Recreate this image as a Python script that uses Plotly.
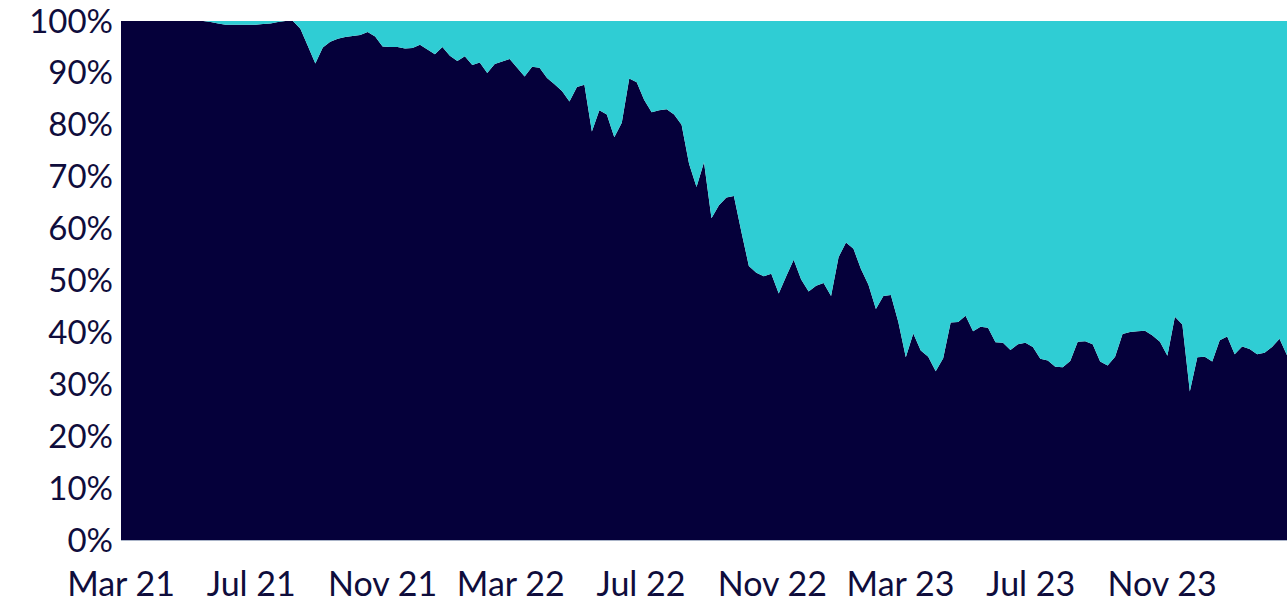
import pandas as pd
import plotly.graph_objects as go

start_date = "2021-03-01"
n_weeks = 157

dark_share = [
    100, 100, 100, 100, 100, 100, 100, 100, 100, 100,
    100, 100, 99.8, 99.5, 99.3, 99.3, 99.3, 99.3, 99.3, 99.4,
    99.5, 99.8, 100, 100, 98.5, 95.2, 91.8, 94.9, 96, 96.6,
    96.9, 97.1, 97.3, 97.9, 97, 95.1, 95, 95, 94.7, 94.8,
    95.4, 94.5, 93.6, 95, 93.3, 92.3, 93.2, 91.5, 92, 90,
    91.7, 92.2, 92.7, 91, 89.3, 91.2, 91, 89, 87.8, 86.5,
    84.5, 87.3, 87.7, 78.7, 82.8, 82, 77.6, 80.4, 88.9, 88.2,
    84.8, 82.4, 82.8, 83, 82, 80, 72.5, 68, 72.8, 62,
    64.5, 66, 66.3, 59.4, 52.8, 51.5, 50.8, 51.3, 47.5, 50.8,
    54, 50.2, 47.9, 49, 49.5, 47, 54.5, 57.3, 56.1, 52.2,
    49.2, 44.5, 47, 47.2, 42, 35.2, 39.8, 36.5, 35.3, 32.5,
    35, 41.9, 42, 43.2, 40.2, 41.1, 40.9, 38.1, 38, 36.6,
    37.7, 38, 37.2, 34.9, 34.6, 33.4, 33.3, 34.5, 38.2, 38.3,
    37.7, 34.4, 33.6, 35.3, 39.7, 40.1, 40.2, 40.3, 39.4, 38.2,
    35.5, 43, 41.5, 28.6, 35.2, 35.3, 34.4, 38.5, 39.2, 35.8,
    37.3, 36.8, 35.8, 36.1, 37.2, 38.8, 35.6,
]
other_share = [round(100 - v, 1) for v in dark_share]

dates = pd.date_range(start_date, periods=n_weeks, freq="7D")

tick_dates = ["2021-03-01", "2021-07-01", "2021-11-01", "2022-03-01", "2022-07-01",
              "2022-11-01", "2023-03-01", "2023-07-01", "2023-11-01"]
tick_labels = ["Mar 21", "Jul 21", "Nov 21", "Mar 22", "Jul 22",
               "Nov 22", "Mar 23", "Jul 23", "Nov 23"]
y_ticks = [0, 10, 20, 30, 40, 50, 60, 70, 80, 90, 100]
y_labels = [f"{v}%" for v in y_ticks]

DARK = "#05003a"
CYAN = "#2fcdd4"
TEXT = "#0f0d3c"

fig = go.Figure()
fig.add_trace(go.Scatter(x=dates, y=dark_share, stackgroup="s", mode="none",
                         fillcolor=DARK, name="A"))
fig.add_trace(go.Scatter(x=dates, y=other_share, stackgroup="s", mode="none",
                         fillcolor=CYAN, name="B"))

fig.update_layout(
    width=1287, height=604,
    margin=dict(l=121, r=0, t=21, b=64),
    paper_bgcolor="white", plot_bgcolor="white",
    showlegend=False,
    font=dict(family="Lato", size=34, color=TEXT),
)
fig.update_xaxes(
    range=[dates[0], dates[-1]],
    tickvals=tick_dates, ticktext=tick_labels,
    tickfont=dict(size=34),
    showgrid=False, zeroline=False,
    showline=True, linecolor="#aab4c8", linewidth=1,
    ticks="", ticklabelstandoff=14, automargin=False,
    ticklabeloverflow="allow",
)
fig.update_yaxes(
    range=[0, 100],
    tickvals=y_ticks, ticktext=y_labels,
    tickfont=dict(size=33),
    showgrid=False, zeroline=False, ticks="", ticklabelstandoff=7,
    automargin=False, ticklabeloverflow="allow",
)

fig.write_html("out.html", config={"displayModeBar": False},
               post_script="document.body.style.margin='0';")
